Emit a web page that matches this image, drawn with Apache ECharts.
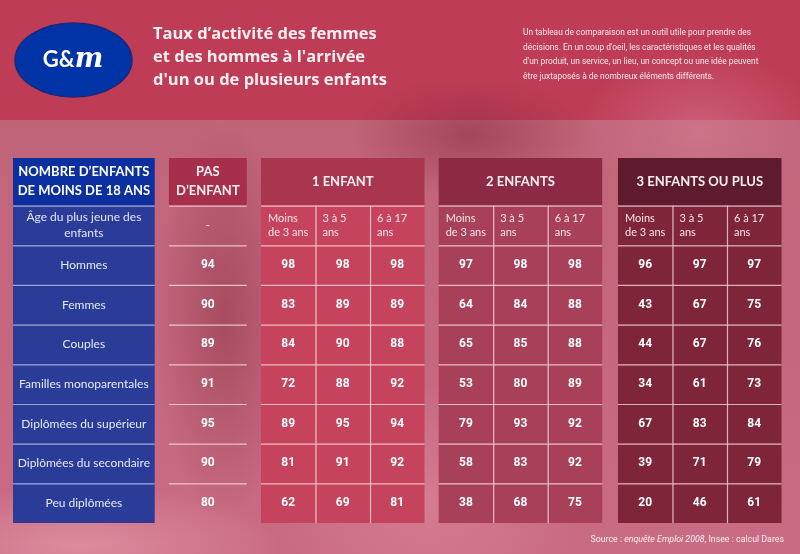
<!DOCTYPE html>
<html><head><meta charset="utf-8">
<script src="https://cdn.jsdelivr.net/npm/echarts@6/dist/echarts.min.js"></script>
<style>
html,body{margin:0;padding:0;}
#c{width:800px;height:554px;
background:
 radial-gradient(ellipse 120px 60px at 470px 135px, rgba(140,45,65,0.55), rgba(140,45,65,0) ),
 radial-gradient(ellipse 70px 200px at 225px 320px, rgba(130,40,60,0.45), rgba(130,40,60,0) ),
 radial-gradient(ellipse 200px 60px at 80px 545px, rgba(235,160,175,0.6), rgba(235,160,175,0) ),
 radial-gradient(ellipse 150px 120px at 430px 500px, rgba(225,140,160,0.5), rgba(225,140,160,0) ),
 radial-gradient(ellipse 120px 80px at 700px 130px, rgba(215,130,150,0.5), rgba(215,130,150,0) ),
 linear-gradient(#BE3C56 0, #BE3C56 120px, #C0647A 120px, #C96C83 554px);}
</style></head>
<body><div id="c"></div>
<script>
// ---- data ----
const rowLabels = ['Hommes','Femmes','Couples','Familles monoparentales','Diplômées du supérieur','Diplômées du secondaire','Peu diplômées'];
const groupLabels = ['1 ENFANT','2 ENFANTS','3 ENFANTS OU PLUS'];
const ageLabels = ['Moins\nde 3 ans','3 à 5\nans','6 à 17\nans'];
const noChild = [94,90,89,91,95,90,80];
const oneChild = [[98,98,98],[83,89,89],[84,90,88],[72,88,92],[89,95,94],[81,91,92],[62,69,81]];
const twoChildren = [[97,98,98],[64,84,88],[65,85,88],[53,80,89],[79,93,92],[58,83,92],[38,68,75]];
const threePlus = [[96,97,97],[43,67,75],[44,67,76],[34,61,73],[67,83,84],[39,71,79],[20,46,61]];
const titleLines = ['Taux d’activité des femmes','et des hommes à l\'arrivée','d\'un ou de plusieurs enfants'];
const descLines = ['Un tableau de comparaison est un outil utile pour prendre des','décisions. En un coup d\'oeil, les caractéristiques et les qualités','d\'un produit, un service, un lieu, un concept ou une idée peuvent','être juxtaposés à de nombreux éléments différents.'];

// ---- layout (axis units) ----
const blueSpan = [0, 2.6];
const noneSpan = [2.86, 4.29];
const groupStart = [4.55, 7.81, 11.1];
const headH = 1.2, subH = 1.0, rowH = 1.0;
const groupHeadColor = ['#A9354E', '#8C2A43', '#5E1B2C'];
const groupCellColor = ['#C6435E', '#A9405A', '#7E2539'];
const groupData = [oneChild, twoChildren, threePlus];

const cells = [];
function add(x0,x1,y0,y1,text,kind,extra){ cells.push(Object.assign({value:[x0,x1,y0,y1],text:String(text),kind:kind},extra||{})); }
const rowY = i => headH + subH + i*rowH;
// blue column
add(blueSpan[0],blueSpan[1],0,headH,'NOMBRE D’ENFANTS\nDE MOINS DE 18 ANS','blueHead');
add(blueSpan[0],blueSpan[1],headH,headH+subH,'Âge du plus jeune des\nenfants','blueSub',{top:true});
rowLabels.forEach((l,i)=>add(blueSpan[0],blueSpan[1],rowY(i),rowY(i)+rowH,l,'blueRow',{top:true}));
// no child
add(noneSpan[0],noneSpan[1],0,headH,'PAS\nD’ENFANT','head',{fill:'#A6304B'});
add(noneSpan[0],noneSpan[1],headH,headH+subH,'-','none',{top:true});
noChild.forEach((v,i)=>add(noneSpan[0],noneSpan[1],rowY(i),rowY(i)+rowH,v,'noneNum',{top:true}));
// groups
groupLabels.forEach((g,gi)=>{
  const s = groupStart[gi];
  add(s,s+3,0,headH,g,'head',{fill:groupHeadColor[gi]});
  ageLabels.forEach((a,k)=>add(s+k,s+k+1,headH,headH+subH,a,'sub',{fill:groupCellColor[gi],top:true,left:k>0}));
  groupData[gi].forEach((row,i)=>row.forEach((v,k)=>add(s+k,s+k+1,rowY(i),rowY(i)+rowH,v,'num',{fill:groupCellColor[gi],top:true,left:k>0})));
});

const chart = echarts.init(document.getElementById('c'), null, {renderer:'canvas'});
const lineCol = 'rgba(255,225,232,0.75)';
const blueLine = 'rgba(190,200,240,0.75)';
function renderItem(params, api){
  const c = cells[params.dataIndex];
  const p0 = api.coord([api.value(0), api.value(2)]);
  const p1 = api.coord([api.value(1), api.value(3)]);
  const x = p0[0], y = p0[1], w = p1[0]-p0[0], h = p1[1]-p0[1];
  const ch = [];
  let fill = c.fill;
  if (c.kind==='blueHead') fill = '#0B2F9F';
  if (c.kind==='blueSub' || c.kind==='blueRow') fill = '#2B3C98';
  if (fill) ch.push({type:'rect', shape:{x:x,y:y,width:w,height:h}, style:{fill:fill}});
  const lc = c.kind.indexOf('blue')===0 ? blueLine : lineCol;
  if (c.top) ch.push({type:'line', shape:{x1:x,y1:y+0.5,x2:x+w,y2:y+0.5}, style:{stroke:lc,lineWidth:1.2}});
  if (c.left) ch.push({type:'line', shape:{x1:x+0.5,y1:y,x2:x+0.5,y2:y+h}, style:{stroke:lc,lineWidth:1.2}});
  let ts;
  const base = {text:c.text, fill:'#FFFFFF', align:'center', verticalAlign:'middle', x:x+w/2, y:y+h/2};
  switch(c.kind){
    case 'blueHead': ts = Object.assign(base,{font:'bold 13px Lato', lineHeight:19}); break;
    case 'head': ts = Object.assign(base,{font:'bold 13px Lato', lineHeight:19, fill:'#FBEFF2'}); break;
    case 'blueSub': ts = Object.assign(base,{font:'12px Lato', lineHeight:16, fill:'#E3E6F6'}); break;
    case 'blueRow': ts = Object.assign(base,{font:'12px Lato', fill:'#E6E8F6'}); break;
    case 'none': ts = Object.assign(base,{font:'12px Lato', fill:'#F6E2E7'}); break;
    case 'sub': ts = Object.assign(base,{font:'11px Lato', lineHeight:14, fill:'#F8E4E9', align:'left', x:x+7}); break;
    default: ts = Object.assign(base,{font:'bold 12px Roboto', fill:'#FFFFFF'});
  }
  ch.push({type:'text', style:ts});
  return {type:'group', children:ch};
}

const graphics = [
  {type:'ellipse', shape:{cx:73.5,cy:60,rx:58.5,ry:37}, style:{fill:'#0033A6', stroke:'#1B2A78', lineWidth:1.5}},
  {type:'text', style:{x:73,y:60,text:'{a|G&}{b|m}', align:'center', verticalAlign:'middle', rich:{a:{font:'bold 22px Lato', fill:'#FFFFFF'}, b:{font:'italic bold 27px "DejaVu Serif"', fill:'#FFFFFF'}}}}
];
titleLines.forEach((t,i)=>graphics.push({type:'text', style:{x:153,y:34+i*23.3,text:t,font:'bold 16.5px "Open Sans"',fill:'#FCEFF2',verticalAlign:'middle'}}));
descLines.forEach((t,i)=>graphics.push({type:'text', style:{x:523,y:32.5+i*14.9,text:t,font:'8.4px Roboto',fill:'#F8E6EA',verticalAlign:'middle'}}));
graphics.push({type:'text', style:{x:784,y:540,align:'right',verticalAlign:'middle',
  text:'{n|Source : }{i|enquête Emploi 2008}{n|, Insee : calcul Dares}',
  rich:{n:{font:'8.8px Roboto',fill:'#FBEFF2'}, i:{font:'italic 8.8px Roboto',fill:'#FBEFF2'}}}});

chart.setOption({
  backgroundColor:'transparent',
  animation:false,
  grid:{left:13,right:18.5,top:158,bottom:31},
  xAxis:{type:'value',min:0,max:14.1,show:false},
  yAxis:{type:'value',min:0,max:9.2,inverse:true,show:false},
  graphic:graphics,
  series:[{type:'custom', renderItem:renderItem, data:cells, clip:false, silent:true}]
});
</script></body></html>
